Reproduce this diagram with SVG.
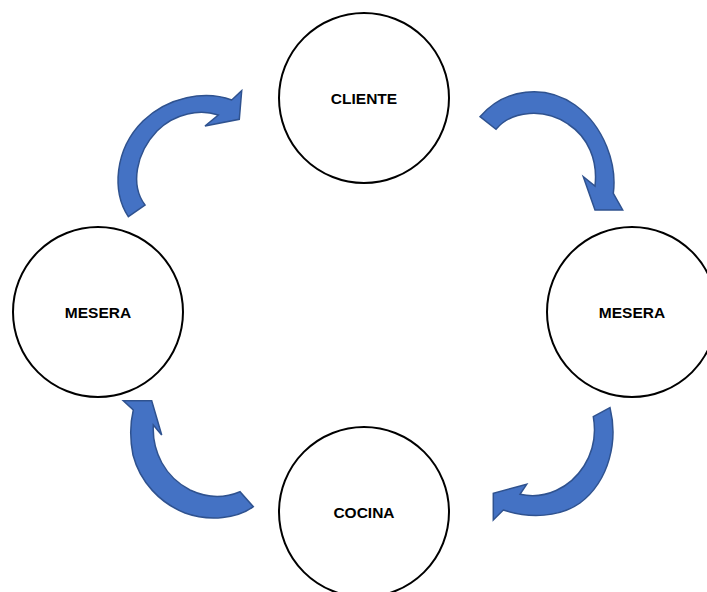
<svg xmlns="http://www.w3.org/2000/svg" width="707" height="592" viewBox="0 0 707 592">
<style>
.node circle{fill:#fff;stroke:#000;stroke-width:2}
.node text{font-family:"Liberation Sans",Arial,sans-serif;font-weight:bold;font-size:15.5px;text-anchor:middle;dominant-baseline:central;fill:#000}
.arr{fill:#4472C4;stroke:#2F528F;stroke-width:1.5;stroke-linejoin:miter}
</style>
<rect width="707" height="592" fill="#fff"/>
<g id="connectors">
<path class="arr" d="M128.3,216.7 C112,192 114,150 143,121 C168,97 205,90 231.7,100 L241.7,90.7 L239.3,119.3 L205,126 L218.3,115 C200,109 175,113 157,131 C136,153 130,185 145,205 Z"/>
<path class="arr" d="M480,116.7 C505,88 545,84 575,105 C605,127 617,165 613.3,193.3 L622.7,210 L595,210 L583.3,176.7 L595,186 C598,160 588,137 568,124 C545,108 512,110 496,129.3 Z"/>
<path class="arr" d="M610,407.7 C618,440 610,480 580,503 C560,517 530,519 503.3,510 L493.3,520 L493.3,493.3 L526.7,484.3 L520,494.3 C545,500 570,488 584,466 C594,450 596,432 593.3,416.7 Z"/>
<path class="arr" d="M123.3,400.7 L151.7,400.7 L161.7,435 L153.3,425 C152,452 165,477 190,490 C207,498 225,498 240,491.7 L253.3,506.7 C238,518 210,522 185,513 C160,503 140,482 133,455 C130,440 130,424 133.3,410 Z"/>
</g>
<g id="cliente" class="node"><circle cx="364" cy="98" r="85"/><text x="364" y="98">CLIENTE</text></g>
<g id="mesera-left" class="node"><circle cx="98" cy="312" r="85"/><text x="98" y="312">MESERA</text></g>
<g id="mesera-right" class="node"><circle cx="632" cy="312" r="85"/><text x="632" y="312">MESERA</text></g>
<g id="cocina" class="node"><circle cx="364" cy="512" r="85"/><text x="364" y="512">COCINA</text></g>
</svg>
